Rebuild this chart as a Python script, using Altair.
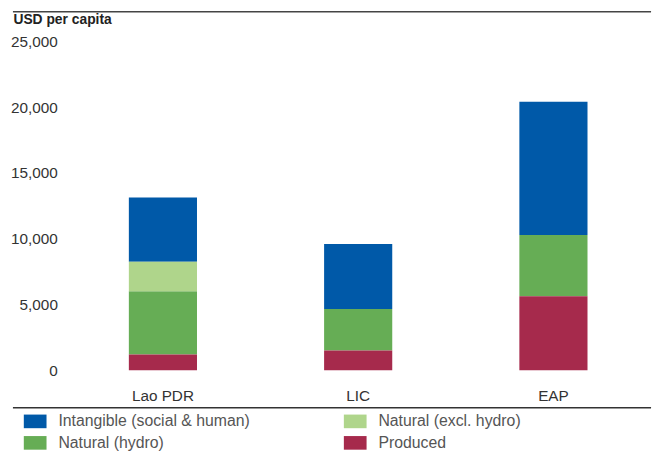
import altair as alt
import pandas as pd

regions = ["Lao PDR", "LIC", "EAP"]
produced = [1200, 1500, 5630]
natural_hydro = [4800, 3150, 4650]
natural_excl = [2250, 0, 0]
intangible = [4880, 4950, 10130]

# legend order (filled column by column)
components = ["Intangible (social & human)", "Natural (hydro)", "Natural (excl. hydro)", "Produced"]
colors = ["#0059A8", "#66AD55", "#AFD58B", "#A62A4C"]
stack_rank = [3, 1, 2, 0]
y_ticks = [0, 5000, 10000, 15000, 20000, 25000]

series = [intangible, natural_hydro, natural_excl, produced]
rows = []
for comp, rank, vals in zip(components, stack_rank, series):
    for reg, v in zip(regions, vals):
        rows.append({"region": reg, "component": comp, "value": v, "rank": rank})
df = pd.DataFrame(rows)

SANS = "Liberation Sans, Arial, sans-serif"

bars = alt.Chart(df).mark_bar().encode(
    x=alt.X("region:N", sort=regions,
            scale=alt.Scale(paddingInner=0.651, paddingOuter=0.3255),
            axis=alt.Axis(title=None, labelAngle=0, domain=False, ticks=False,
                          labelPadding=19, labelFont=SANS, labelFontSize=15.5,
                          labelColor="#333333")),
    y=alt.Y("value:Q", stack="zero",
            scale=alt.Scale(domain=[0, 25000], nice=False),
            axis=alt.Axis(values=y_ticks, format=",.0f", grid=False, domain=False,
                          ticks=False, labelPadding=8, labelFont=SANS,
                          labelFontSize=15.5, labelColor="#333333",
                          title="USD per capita", titleAngle=0, titleAlign="left",
                          titleBaseline="alphabetic", titleX=-53, titleY=-18,
                          titleFont=SANS, titleFontSize=14, titleFontWeight="bold",
                          titleColor="#222222")),
    color=alt.Color("component:N",
                    scale=alt.Scale(domain=components, range=colors),
                    legend=alt.Legend(orient="none", legendX=-42, legendY=373,
                                      columns=2, columnPadding=95, rowPadding=2,
                                      symbolType="M-1,-0.6H1V0.6H-1Z", symbolSize=529,
                                      symbolStrokeWidth=0, labelOffset=12,
                                      labelFont=SANS, labelFontSize=16,
                                      labelColor="#555555", title=None, padding=0,
                                      labelLimit=400)),
    order=alt.Order("rank:Q"),
)

line_data = alt.Data(values=[{"k": 1}])
top_rule = alt.Chart(line_data).mark_rule(color="#444444", strokeWidth=1.5).encode(
    x=alt.value(-53), x2=alt.value(593), y=alt.value(-30)
)
bottom_rule = alt.Chart(line_data).mark_rule(color="#333333", strokeWidth=1.5).encode(
    x=alt.value(-53), x2=alt.value(593), y=alt.value(371)
)

chart = alt.layer(bars, top_rule, bottom_rule).properties(
    width=593, height=333,
    padding={"left": 58, "top": 31, "right": 5, "bottom": 80},
    autosize=alt.AutoSizeParams(type="none"),
).configure_view(stroke=None)

chart.save("out.html", embed_options={"renderer": "svg", "actions": False})
